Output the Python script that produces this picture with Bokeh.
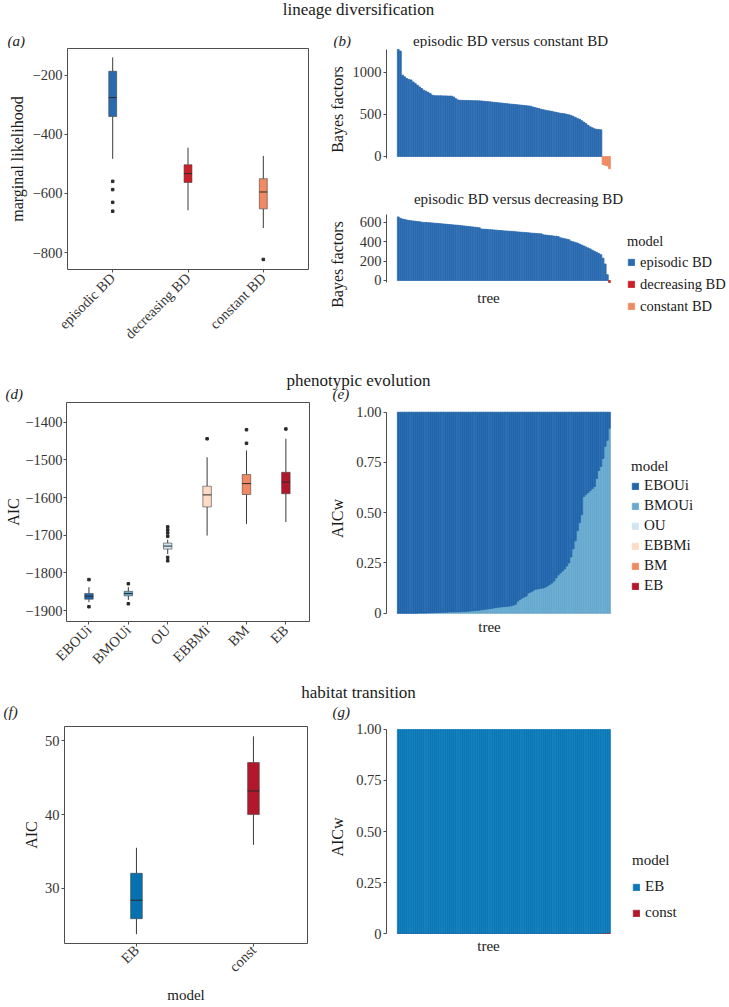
import numpy as np
from math import pi
from bokeh.plotting import figure
from bokeh.models import Range1d, FixedTicker, Label, Legend, LegendItem, ColumnDataSource
from bokeh.layouts import column, row
from bokeh.embed import file_html
from bokeh.resources import INLINE

FONT = "Liberation Serif"
TXT = "#1a1a1a"
AX = "#4d4d4d"

# ---------------- data ----------------
# (a) lineage diversification: marginal likelihood boxplots
a_models = ["episodic BD", "decreasing BD", "constant BD"]
a_colors = ["#2a6ab0", "#cb2027", "#ef8a62"]
a_q1 = [-340, -563, -652]
a_med = [-276, -533, -595]
a_q3 = [-187, -503, -550]
a_lo = [-483, -657, -717]
a_hi = [-140, -445, -473]
a_out_model = ["episodic BD", "episodic BD", "episodic BD", "episodic BD", "constant BD"]
a_out_val = [-559, -587, -630, -660, -823]
a_yticks = [-800, -600, -400, -200]

# (b) Bayes factors episodic BD versus constant BD (one per tree, sorted)
b_bf = [1270, 1250, 965, 945, 925, 913, 908, 885, 865, 845,
        825, 806, 786, 774, 762, 746, 728, 722, 721, 720,
        720, 719, 719, 718, 717, 716, 706, 686, 671, 667,
        666, 665, 665, 664, 663, 662, 662, 661, 660, 659,
        656, 653, 651, 648, 645, 643, 640, 637, 635, 632,
        629, 627, 624, 621, 619, 616, 613, 611, 608, 605,
        603, 600, 597, 588, 580, 574, 568, 560, 555, 549,
        544, 540, 536, 529, 524, 518, 513, 510, 506, 500,
        494, 486, 477, 464, 452, 442, 425, 408, 390, 370,
        352, 340, 328, 322, 319, 316, -95, -105, -112, -145]
b_yticks = [0, 500, 1000]

# (c) Bayes factors episodic BD versus decreasing BD
c_bf = [654, 640, 632, 628, 622, 618, 615, 612, 610, 607,
        605, 600, 598, 597, 595, 594, 592, 590, 588, 586,
        584, 582, 580, 578, 576, 574, 572, 570, 568, 566,
        563, 561, 558, 556, 553, 551, 548, 546, 543, 530,
        528, 527, 525, 523, 522, 520, 518, 516, 514, 512,
        510, 509, 507, 506, 505, 502, 500, 498, 496, 495,
        493, 491, 489, 487, 485, 483, 481, 480, 470, 468,
        465, 462, 460, 457, 455, 452, 440, 435, 430, 425,
        420, 405, 398, 392, 385, 375, 365, 355, 345, 335,
        325, 312, 300, 290, 278, 265, 230, 170, 60, -20]
c_yticks = [0, 200, 400, 600]

# (d) phenotypic evolution: AIC boxplots
d_models = ["EBOUi", "BMOUi", "OU", "EBBMi", "BM", "EB"]
d_colors = ["#2166ac", "#67a9cf", "#d1e5f0", "#fddbc7", "#ef8a62", "#b2182b"]
d_q1 = [-1870, -1861, -1737, -1625, -1592, -1590]
d_med = [-1862, -1855, -1729, -1593, -1563, -1559]
d_q3 = [-1855, -1849, -1721, -1570, -1539, -1533]
d_lo = [-1878, -1872, -1750, -1701, -1670, -1665]
d_hi = [-1838, -1838, -1712, -1493, -1475, -1444]
d_out_model = ["EBOUi", "EBOUi", "BMOUi", "BMOUi", "OU", "OU", "OU", "OU", "OU", "OU",
               "EBBMi", "BM", "BM", "EB"]
d_out_val = [-1818, -1890, -1829, -1882, -1678, -1686, -1694, -1703, -1759, -1768,
             -1444, -1420, -1456, -1418]
d_yticks = [-1900, -1800, -1700, -1600, -1500, -1400]

# (e) AIC weights per tree
e_bmoui = [0, 0, 0, 0, 0, 0, 0, 0, 0, 0,
           0.001, 0.001, 0.001, 0.001, 0.002, 0.002, 0.002, 0.003, 0.003, 0.004,
           0.004, 0.005, 0.005, 0.005, 0.006, 0.006, 0.006, 0.007, 0.007, 0.007,
           0.008, 0.008, 0.009, 0.010, 0.011, 0.012, 0.013, 0.014, 0.015, 0.017,
           0.018, 0.020, 0.021, 0.023, 0.024, 0.026, 0.028, 0.030, 0.031, 0.032,
           0.033, 0.034, 0.035, 0.037, 0.040, 0.045, 0.060, 0.068, 0.075, 0.080,
           0.085, 0.100, 0.105, 0.110, 0.118, 0.120, 0.122, 0.124, 0.125, 0.130,
           0.136, 0.143, 0.150, 0.160, 0.175, 0.190, 0.200, 0.210, 0.220, 0.235,
           0.250, 0.280, 0.320, 0.360, 0.410, 0.450, 0.490, 0.580, 0.590, 0.600,
           0.610, 0.620, 0.630, 0.670, 0.710, 0.730, 0.770, 0.830, 0.860, 0.920]
e_eboui = [1, 1, 1, 1, 1, 1, 1, 1, 1, 1,
           0.999, 0.999, 0.999, 0.999, 0.998, 0.998, 0.998, 0.997, 0.997, 0.996,
           0.996, 0.995, 0.995, 0.995, 0.994, 0.994, 0.994, 0.993, 0.993, 0.993,
           0.992, 0.992, 0.991, 0.990, 0.989, 0.988, 0.987, 0.986, 0.985, 0.983,
           0.982, 0.980, 0.979, 0.977, 0.976, 0.974, 0.972, 0.970, 0.969, 0.968,
           0.967, 0.966, 0.965, 0.963, 0.960, 0.955, 0.940, 0.932, 0.925, 0.920,
           0.915, 0.900, 0.895, 0.890, 0.882, 0.880, 0.878, 0.876, 0.875, 0.870,
           0.864, 0.857, 0.850, 0.840, 0.825, 0.810, 0.800, 0.790, 0.780, 0.765,
           0.750, 0.720, 0.680, 0.640, 0.590, 0.550, 0.510, 0.420, 0.410, 0.400,
           0.390, 0.380, 0.370, 0.330, 0.290, 0.270, 0.230, 0.170, 0.140, 0.080]
e_ou = [0.0] * 100
e_ebbmi = [0.0] * 100
e_bm = [0.0] * 100
e_eb = [0.0] * 100
w_yticks = [0, 0.25, 0.5, 0.75, 1]
w_ylabels = ["0", "0.25", "0.50", "0.75", "1.00"]

# (f) habitat transition: AIC boxplots
f_models = ["EB", "const"]
f_colors = ["#0571b0", "#b2182b"]
f_q1 = [25.9, 40.0]
f_med = [28.4, 43.2]
f_q3 = [32.05, 47.05]
f_lo = [23.8, 35.9]
f_hi = [35.5, 50.6]
f_yticks = [30, 40, 50]

# (g) AIC weights per tree
g_eb = [1.0] * 94 + [0.999, 0.999, 0.998, 0.998, 0.997, 0.996]
g_const = [0.0] * 94 + [0.001, 0.001, 0.002, 0.002, 0.003, 0.004]
g_colors = ["#0b78b8", "#b2182b"]


# ---------------- helpers ----------------
def lab(p, x, y, text, size="15px", align="left", style="normal"):
    p.add_layout(Label(x=x, y=y, x_units="canvas", y_units="canvas", text=text,
                       text_align=align, text_baseline="middle", text_font=FONT,
                       text_font_size=size, text_font_style=style, text_color=TXT))


def new_fig(w, h, xr, yr, bl, br, bt, bb):
    p = figure(width=w, height=h, x_range=Range1d(*xr), y_range=Range1d(*yr),
               output_backend="svg", toolbar_location=None,
               min_border_left=bl, min_border_right=br, min_border_top=bt, min_border_bottom=bb)
    p.xgrid.visible = False
    p.ygrid.visible = False
    p.background_fill_color = "white"
    p.border_fill_color = "white"
    for ax in p.axis:
        ax.major_label_text_font = FONT
        ax.major_label_text_font_size = "14.5px"
        ax.major_label_text_color = "#333333"
        ax.axis_label_text_font = FONT
        ax.axis_label_text_font_style = "normal"
        ax.axis_label_text_font_size = "16px"
        ax.axis_label_text_color = TXT
        ax.minor_tick_line_color = None
        ax.major_tick_in = 0
        ax.major_tick_out = 3
        ax.major_tick_line_color = AX
        ax.axis_line_color = AX
        ax.major_label_standoff = 2
    return p


def neg(t):
    return ("\u2212" + str(abs(t))) if t < 0 else str(t)


def box_panel(p, cats, colors, q1, med, q3, lo, hi, out_cat, out_val, w, yticks):
    xs = np.arange(1, len(cats) + 1)
    src = ColumnDataSource(dict(x=xs, q1=q1, med=med, q3=q3, lo=lo, hi=hi, c=colors,
                                x0=xs - w / 2, x1=xs + w / 2))
    p.segment(x0="x", y0="lo", x1="x", y1="q1", source=src, line_color="#3a3a3a", line_width=1)
    p.segment(x0="x", y0="q3", x1="x", y1="hi", source=src, line_color="#3a3a3a", line_width=1)
    p.vbar(x="x", width=w, bottom="q1", top="q3", fill_color="c", line_color="#3a3a3a",
           line_width=0.7, line_alpha=0.8, source=src)
    p.segment(x0="x0", y0="med", x1="x1", y1="med", source=src, line_color="#2a2a2a", line_width=1)
    if out_cat:
        ox = [cats.index(c) + 1 for c in out_cat]
        p.scatter(ox, out_val, marker="square", size=2.5, color="#2a2a2a")
    p.outline_line_color = AX
    p.outline_line_width = 1
    p.xaxis.ticker = FixedTicker(ticks=[int(i) for i in xs])
    p.xaxis.major_label_overrides = {int(i): c for i, c in zip(xs, cats)}
    p.xaxis.major_label_orientation = pi / 4
    p.xaxis.major_label_standoff = 3
    p.yaxis.ticker = FixedTicker(ticks=yticks)
    p.yaxis.major_label_overrides = {t: neg(t) for t in yticks}
    p.axis.axis_line_color = None


def bar_axes(p, yticks, ylabels, bounds, ylabel, ystand):
    p.outline_line_color = None
    p.yaxis.ticker = FixedTicker(ticks=yticks)
    p.yaxis.major_label_overrides = dict(zip(yticks, ylabels))
    p.yaxis.bounds = bounds
    p.yaxis.axis_label = ylabel
    p.yaxis.axis_label_standoff = ystand
    p.xaxis.visible = False


def make_legend(items, loc, size, label_h, spacing, title_standoff):
    return Legend(items=items, location=loc, title="model",
                  title_text_font=FONT, title_text_font_size=size, title_text_font_style="normal",
                  title_text_color=TXT, title_standoff=title_standoff,
                  label_text_font=FONT, label_text_font_size=size, label_text_color=TXT,
                  label_height=label_h, label_standoff=5, glyph_width=8, glyph_height=8,
                  spacing=spacing, padding=0, margin=0, border_line_color=None,
                  background_fill_alpha=0)


def strip(w, h, texts):
    p = figure(width=w, height=h, x_range=Range1d(0, 1), y_range=Range1d(0, 1),
               output_backend="svg", toolbar_location=None, min_border=0)
    p.axis.visible = False
    p.grid.visible = False
    p.outline_line_color = None
    for (x, y, t, size, align, style) in texts:
        lab(p, x, y, t, size, align, style)
    return p


def bars_by_model(p, trees, vals, fav, models, colors):
    rs = []
    for m, col in zip(models, colors):
        mk = fav == m
        if mk.any():
            xs, tops = trees[mk].astype(float), vals[mk]
        else:
            xs, tops = np.array([np.nan]), np.array([0.0])
        rs.append(p.vbar(x=xs, top=tops, bottom=0, width=BW, fill_color=col,
                         line_color=col, line_width=0.8))
    return rs


XR = (-4.516, 155.8)
BW = 0.85
LW, RW = 322, 406

# ---------------- header strips ----------------
s1 = strip(LW + RW, 48, [(358, 9, "lineage diversification", "17px", "center", "normal"),
                         (7, 40, "(a)", "15px", "left", "italic"),
                         (333, 40, "(b)", "15px", "left", "italic"),
                         (510, 40, "episodic BD versus constant BD", "15px", "center", "normal")])
cs = strip(RW, 24, [(11, 12, "(c)", "15px", "left", "italic"),
                    (196, 10, "episodic BD versus decreasing BD", "15px", "center", "normal")])
s2 = strip(LW + RW, 52, [(358, 30, "phenotypic evolution", "17px", "center", "normal"),
                         (5, 43, "(d)", "15px", "left", "italic"),
                         (332, 43, "(e)", "15px", "left", "italic")])
s3 = strip(LW + RW, 40, [(358, 12, "habitat transition", "17px", "center", "normal"),
                         (3, 31, "(f)", "15px", "left", "italic"),
                         (332, 31, "(g)", "15px", "left", "italic")])

# ---------------- (a) ----------------
fa = new_fig(LW, 302, (0.4, 3.6), (-857, -110), 67, 14, 0, 78)
box_panel(fa, a_models, a_colors, a_q1, a_med, a_q3, a_lo, a_hi, a_out_model, a_out_val, 0.105, a_yticks)
fa.yaxis.axis_label = "marginal likelihood"
fa.yaxis.axis_label_standoff = 4

# ---------------- (b) ----------------
trees_b = np.arange(1, len(b_bf) + 1)
b_arr = np.array(b_bf)
b_fav = np.where(b_arr > 0, "episodic BD", "constant BD")
fb = new_fig(RW, 140, XR, (-166.1, 1281.1), 64, 0, 0, 18)
bars_by_model(fb, trees_b, b_arr, b_fav, a_models, a_colors)
bar_axes(fb, b_yticks, [str(t) for t in b_yticks], (-25, 1275), "Bayes factors", 4)

# ---------------- (c) ----------------
trees_c = np.arange(1, len(c_bf) + 1)
c_arr = np.array(c_bf)
c_fav = np.where(c_arr > 0, "episodic BD", "decreasing BD")
fc = new_fig(RW, 138, XR, (-370.4, 699.6), 64, 0, 0, 34)
c_rs = bars_by_model(fc, trees_c, c_arr, c_fav, a_models, a_colors)
bar_axes(fc, c_yticks, [str(t) for t in c_yticks], (-20, 680), "Bayes factors", 11)
lab(fc, 166, 85, "tree", "15px", "center")
fc.add_layout(make_legend([LegendItem(label=m, renderers=[r]) for m, r in zip(a_models, c_rs)],
                          (241, 1), "14.5px", 18, 4, 3), "center")

# ---------------- (d) ----------------
fd = new_fig(LW, 278, (0.43, 6.6), (-1929.2, -1347.7), 66, 13, 0, 59)
box_panel(fd, d_models, d_colors, d_q1, d_med, d_q3, d_lo, d_hi, d_out_model, d_out_val, 0.216, d_yticks)
fd.yaxis.axis_label = "AIC"
fd.yaxis.major_label_standoff = 1
fd.yaxis.axis_label_standoff = 0

# ---------------- (e) ----------------
trees_e = np.arange(1, len(e_bmoui) + 1)
e_src = ColumnDataSource(dict(tree=trees_e, EB=e_eb, BM=e_bm, EBBMi=e_ebbmi, OU=e_ou,
                              BMOUi=e_bmoui, EBOUi=e_eboui))
stack_order = ["EB", "BM", "EBBMi", "OU", "BMOUi", "EBOUi"]
stack_cols = [d_colors[d_models.index(m)] for m in stack_order]
fe = new_fig(RW, 278, XR, (-0.106, 1.048), 64, 0, 0, 46)
e_rs = fe.vbar_stack(stack_order, x="tree", width=BW, fill_color=stack_cols, line_color=stack_cols,
                     line_width=0.8, source=e_src)
bar_axes(fe, w_yticks, w_ylabels, (0, 1), "AICw", 7)
lab(fe, 167, 224, "tree", "15px", "center")
e_map = dict(zip(stack_order, e_rs))
fe.add_layout(make_legend([LegendItem(label=m, renderers=[e_map[m]]) for m in d_models],
                          (245, 40), "15px", 17, 3, 2), "center")

# ---------------- (f) ----------------
ff = new_fig(LW, 286, (0.385, 2.462), (22.54, 51.93), 64, 15, 6, 57)
box_panel(ff, f_models, f_colors, f_q1, f_med, f_q3, f_lo, f_hi, [], [], 0.1, f_yticks)
ff.yaxis.axis_label = "AIC"
ff.yaxis.axis_label_standoff = 2
ff.xaxis.axis_label = "model"
ff.xaxis.axis_label_text_font_size = "15px"
ff.xaxis.major_label_standoff = 1
ff.xaxis.axis_label_standoff = 4

# ---------------- (g) ----------------
trees_g = np.arange(1, len(g_eb) + 1)
g_src = ColumnDataSource(dict(tree=trees_g, const=g_const, EB=g_eb))
fg = new_fig(RW, 286, XR, (-0.098, 1.0441), 64, 0, 0, 53)
g_cols = [g_colors[1], g_colors[0]]
g_rs = fg.vbar_stack(["const", "EB"], x="tree", width=BW, fill_color=g_cols, line_color=g_cols,
                     line_width=0.8, source=g_src)
bar_axes(fg, w_yticks, w_ylabels, (0, 1), "AICw", 7)
lab(fg, 166, 225, "tree", "15px", "center")
fg.add_layout(make_legend([LegendItem(label="EB", renderers=[g_rs[1]]),
                           LegendItem(label="const", renderers=[g_rs[0]])],
                          (246, 32), "15px", 17, 9, 9), "center")

# ---------------- layout ----------------
layout = column(s1,
                row(fa, column(fb, cs, fc)),
                s2,
                row(fd, column(fe)),
                s3,
                row(ff, column(fg)))
open("out.html", "w").write(file_html(layout, INLINE, title="model comparison"))
